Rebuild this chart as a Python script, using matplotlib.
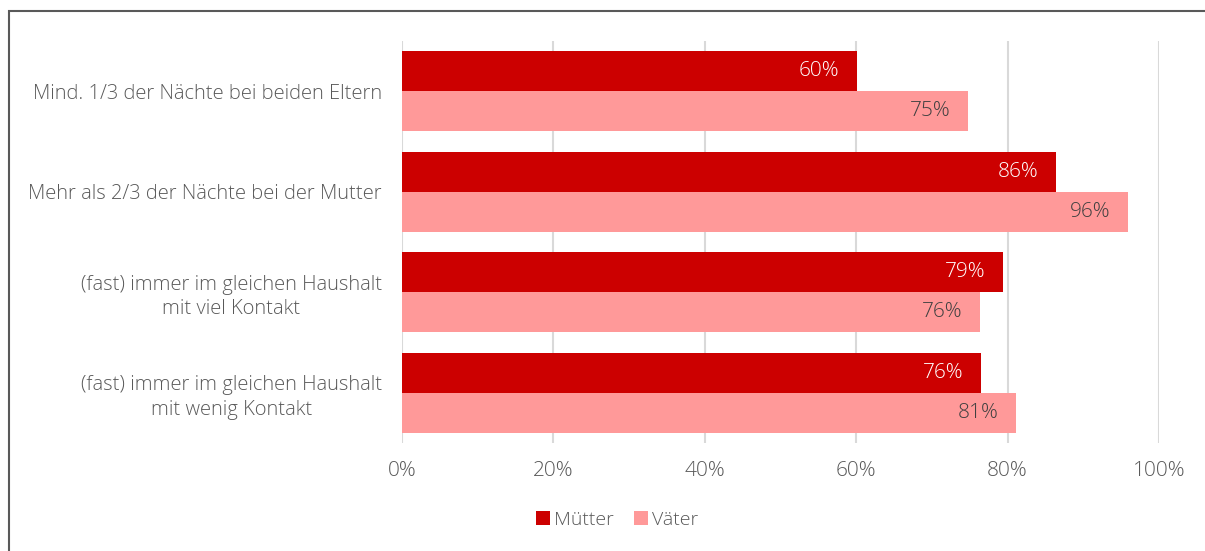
import matplotlib
matplotlib.use("Agg")
import matplotlib.pyplot as plt
from matplotlib.patches import Rectangle
import numpy as np

plt.rcParams['font.family'] = ['Open Sans', 'DejaVu Sans']
plt.rcParams['font.weight'] = 'light'

categories = [
    "Mind. 1/3 der Nächte bei beiden Eltern",
    "Mehr als 2/3 der Nächte bei der Mutter",
    "(fast) immer im gleichen Haushalt\nmit viel Kontakt",
    "(fast) immer im gleichen Haushalt\nmit wenig Kontakt",
]
muetter = [60.1, 86.4, 79.4, 76.5]
vaeter = [74.8, 95.9, 76.4, 81.1]
series_names = ["Mütter", "Väter"]
xticks = [0, 20, 40, 60, 80, 100]

c_m = "#CC0000"
c_v = "#FF9999"
txt = "#595959"

W, H = 1205, 551
fig = plt.figure(figsize=(W / 100, H / 100), dpi=100)
ax = fig.add_axes([402 / W, (H - 443) / H, (1159 - 402) / W, (443 - 41) / H])

y = np.arange(len(categories))
bh = 0.4
b1 = ax.barh(y - bh / 2, muetter, height=bh, color=c_m, label=series_names[0], zorder=3)
b2 = ax.barh(y + bh / 2, vaeter, height=bh, color=c_v, label=series_names[1], zorder=3)

for rect, v in zip(b1, muetter):
    ax.text(rect.get_width() - 2.3, rect.get_y() + rect.get_height() / 2, f"{round(v)}%",
            ha="right", va="center", color="white", fontsize=15, zorder=4)
for rect, v in zip(b2, vaeter):
    ax.text(rect.get_width() - 2.3, rect.get_y() + rect.get_height() / 2, f"{round(v)}%",
            ha="right", va="center", color="#404040", fontsize=15, zorder=4)

ax.set_xlim(0, 100)
ax.set_ylim(len(categories) - 0.5, -0.5)
ax.set_xticks(xticks)
ax.set_xticklabels([f"{t}%" for t in xticks])
ax.set_yticks(y)
ax.set_yticklabels(categories, ha="right", multialignment="center", linespacing=1.3)
ax.tick_params(axis="y", length=0, pad=14.4, labelsize=14.5, labelcolor=txt)
ax.tick_params(axis="x", length=0, pad=13, labelsize=15, labelcolor=txt)
ax.grid(axis="x", color="#D9D9D9", linewidth=1.5, zorder=0)
for s in ax.spines.values():
    s.set_visible(False)

leg = fig.legend(handles=[b1, b2], labels=series_names, loc="center", bbox_to_anchor=(617 / W, (H - 520) / H),
                 ncol=2, frameon=False, fontsize=14, handlelength=0.75, handleheight=0.75,
                 handletextpad=0.2, columnspacing=1.0)
for t in leg.get_texts():
    t.set_color(txt)

fig.patches.append(Rectangle((8.5 / W, -1), 3, (H - 10.5) / H + 1, transform=fig.transFigure,
                             fill=False, edgecolor="#595959", linewidth=1.5))

fig.savefig("out.png", dpi=100)
